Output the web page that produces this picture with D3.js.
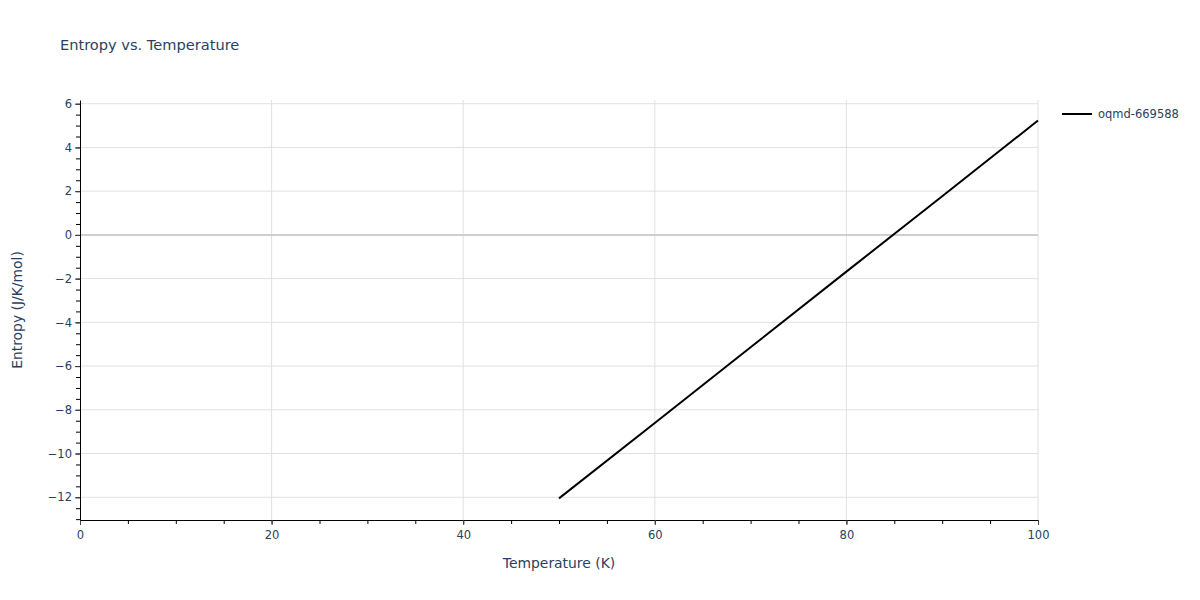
<!DOCTYPE html>
<html>
<head>
<meta charset="utf-8">
<script src="https://cdn.jsdelivr.net/npm/d3@7"></script>
<style>
  body { margin: 0; background: #fff; }
  svg text { font-family: "DejaVu Sans", Verdana, sans-serif; fill: #2a3f5f; }
</style>
</head>
<body>
<svg id="chart" width="1200" height="600"></svg>
<script>
// data
var temperature = [50, 60, 70, 80, 90, 100];
var entropy = [-12.05, -8.6, -5.14, -1.68, 1.77, 5.23];
var seriesName = "oqmd-669588";
var xTicks = [0, 20, 40, 60, 80, 100];
var yTicks = [-12, -10, -8, -6, -4, -2, 0, 2, 4, 6];

var margin = {left: 80, right: 162, top: 100, bottom: 80};
var width = 1200, height = 600;

var svg = d3.select("#chart");

var x = d3.scaleLinear().domain([0, 100]).range([margin.left, width - margin.right]);
var y = d3.scaleLinear().domain([-13.04, 6.17]).range([height - margin.bottom, margin.top]);

// grid
svg.append("g").selectAll("line")
	.data(xTicks.filter(function(d) { return d > 0; }))
	.enter().append("line")
	.attr("x1", function(d) { return x(d); })
	.attr("x2", function(d) { return x(d); })
	.attr("y1", y.range()[0])
	.attr("y2", y.range()[1])
	.attr("stroke", "#e1e1e1");

svg.append("g").selectAll("line")
	.data(yTicks)
	.enter().append("line")
	.attr("x1", x.range()[0])
	.attr("x2", x.range()[1])
	.attr("y1", function(d) { return y(d); })
	.attr("y2", function(d) { return y(d); })
	.attr("stroke", function(d) { return d == 0 ? "#cfcfcf" : "#e1e1e1"; })
	.attr("stroke-width", function(d) { return d == 0 ? 2 : 1; });

// minor ticks
svg.append("g")
	.attr("transform", "translate(0," + y.range()[0] + ")")
	.call(d3.axisBottom(x).tickValues(d3.range(0, 101, 5)).tickSize(4).tickFormat(""))
	.call(function(g) { g.select(".domain").remove(); });

svg.append("g")
	.attr("transform", "translate(" + x.range()[0] + ",0)")
	.call(d3.axisLeft(y).tickValues(d3.range(-13, 6.1, 0.5)).tickSize(4).tickFormat(""))
	.call(function(g) { g.select(".domain").remove(); });

// major axes
var xAxis = svg.append("g")
	.attr("transform", "translate(0," + y.range()[0] + ")")
	.call(d3.axisBottom(x).tickValues(xTicks).tickSize(5).tickPadding(6).tickSizeOuter(0));

var yAxis = svg.append("g")
	.attr("transform", "translate(" + x.range()[0] + ",0)")
	.call(d3.axisLeft(y).tickValues(yTicks).tickSize(5).tickPadding(3).tickSizeOuter(0)
		.tickFormat(function(d) { return d < 0 ? "\u2212" + Math.abs(d) : d; }));

[xAxis, yAxis].forEach(function(g) {
	g.selectAll("text").attr("font-size", 11.5).attr("font-family", null).style("fill", "#2a3f5f");
	g.select(".domain").attr("stroke", "#000");
	g.selectAll(".tick line").attr("stroke", "#444");
});

// line
var line = d3.line()
	.x(function(d, i) { return x(temperature[i]); })
	.y(function(d) { return y(d); });

svg.append("path")
	.datum(entropy)
	.attr("d", line)
	.attr("fill", "none")
	.attr("stroke", "#000")
	.attr("stroke-width", 2);

// titles
svg.append("text")
	.attr("x", 60).attr("y", 50)
	.attr("font-size", 14.6)
	.text("Entropy vs. Temperature");

svg.append("text")
	.attr("x", (x.range()[0] + x.range()[1]) / 2).attr("y", 568)
	.attr("text-anchor", "middle")
	.attr("font-size", 13.9)
	.text("Temperature (K)");

svg.append("text")
	.attr("transform", "translate(22," + (y.range()[0] + y.range()[1]) / 2 + ") rotate(-90)")
	.attr("text-anchor", "middle")
	.attr("font-size", 13.9)
	.text("Entropy (J/K/mol)");

// legend
var legend = svg.append("g").attr("transform", "translate(1062,114)");
legend.append("line")
	.attr("x1", 0).attr("x2", 30)
	.attr("stroke", "#000").attr("stroke-width", 2);
legend.append("text")
	.attr("x", 36).attr("y", 4)
	.attr("font-size", 11.5)
	.text(seriesName);
</script>
</body>
</html>
